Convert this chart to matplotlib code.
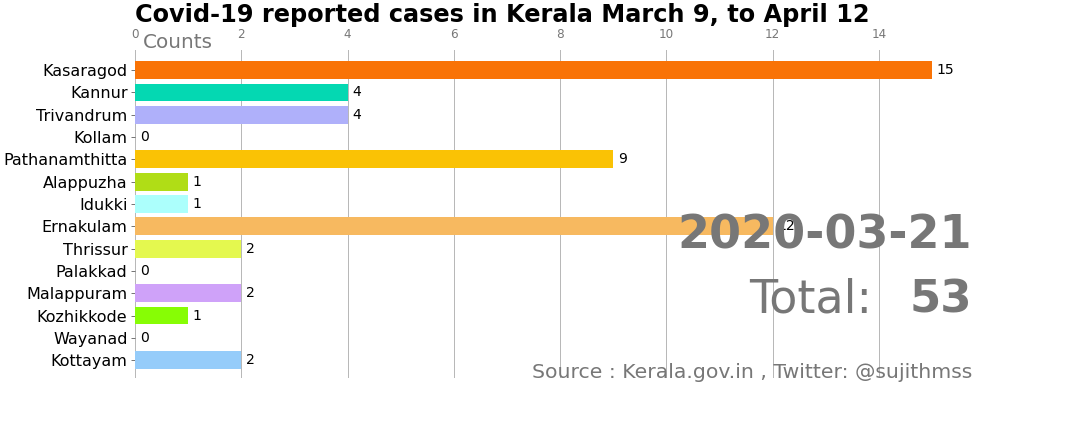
import matplotlib
matplotlib.use("Agg")
import matplotlib.pyplot as plt

districts = ["Kasaragod", "Kannur", "Trivandrum", "Kollam", "Pathanamthitta",
             "Alappuzha", "Idukki", "Ernakulam", "Thrissur", "Palakkad",
             "Malappuram", "Kozhikkode", "Wayanad", "Kottayam"]
cases = [15, 4, 4, 0, 9, 1, 1, 12, 2, 0, 2, 1, 0, 2]
colors = ["#f97306", "#04d8b2", "#afb0fa", "#c0c0c0", "#fac205",
          "#b0dd16", "#acfffc", "#f7b960", "#e4f84f", "#c0c0c0",
          "#cfa2f9", "#87fd05", "#c0c0c0", "#95ccfa"]
date = "2020-03-21"
total = sum(cases)

fig = plt.figure(figsize=(15, 6), dpi=72)
ax = fig.add_axes([0.125, 0.125, 0.775, 0.759])

ypos = list(range(len(districts)))
ax.barh(ypos, cases, color=colors, height=0.8, zorder=2)
for y, v in zip(ypos, cases):
    ax.text(v + 0.09, y, str(v), va="center", ha="left", fontsize=14, color="black", zorder=3)

ax.set_yticks(ypos)
ax.set_yticklabels(districts, fontsize=16)
ax.set_ylim(13.8, -0.9)
ax.set_xlim(0, 15.75)
ax.set_xticks(range(0, 16, 2))

ax.xaxis.set_ticks_position("top")
ax.tick_params(axis="x", colors="#777777", labelsize=12, length=0, pad=9)
ax.tick_params(axis="y", colors="#555555", labelcolor="black", length=4)
ax.grid(axis="x", color="#b8b8b8", linewidth=1, zorder=0)
ax.set_axisbelow(True)
for s in ax.spines.values():
    s.set_visible(False)

ax.text(0.01, 0.995, "Counts", transform=ax.transAxes, fontsize=20,
        color="#777777", ha="left", va="bottom")
ax.set_title("Covid-19 reported cases in Kerala March 9, to April 12",
             loc="left", fontsize=24, fontweight="bold", pad=28)

ax.text(1.0, 0.395, date, transform=ax.transAxes, fontsize=46,
        fontweight="bold", color="#777777", ha="right", va="baseline", zorder=4)
ax.annotate("Total:", xy=(1.0, 0.2), xycoords="axes fraction",
            xytext=(-100, 0), textcoords="offset points", fontsize=46,
            color="#777777", ha="right", va="baseline", zorder=4)
ax.text(1.0, 0.2, str(total), transform=ax.transAxes, fontsize=45,
        fontweight="bold", color="#777777", ha="right", va="baseline", zorder=5)
ax.text(1.0, 0.0, "Source : Kerala.gov.in , Twitter: @sujithmss", transform=ax.transAxes,
        fontsize=20.4, color="#777777", ha="right", va="baseline", zorder=4)

fig.savefig("out.png", dpi=72)
